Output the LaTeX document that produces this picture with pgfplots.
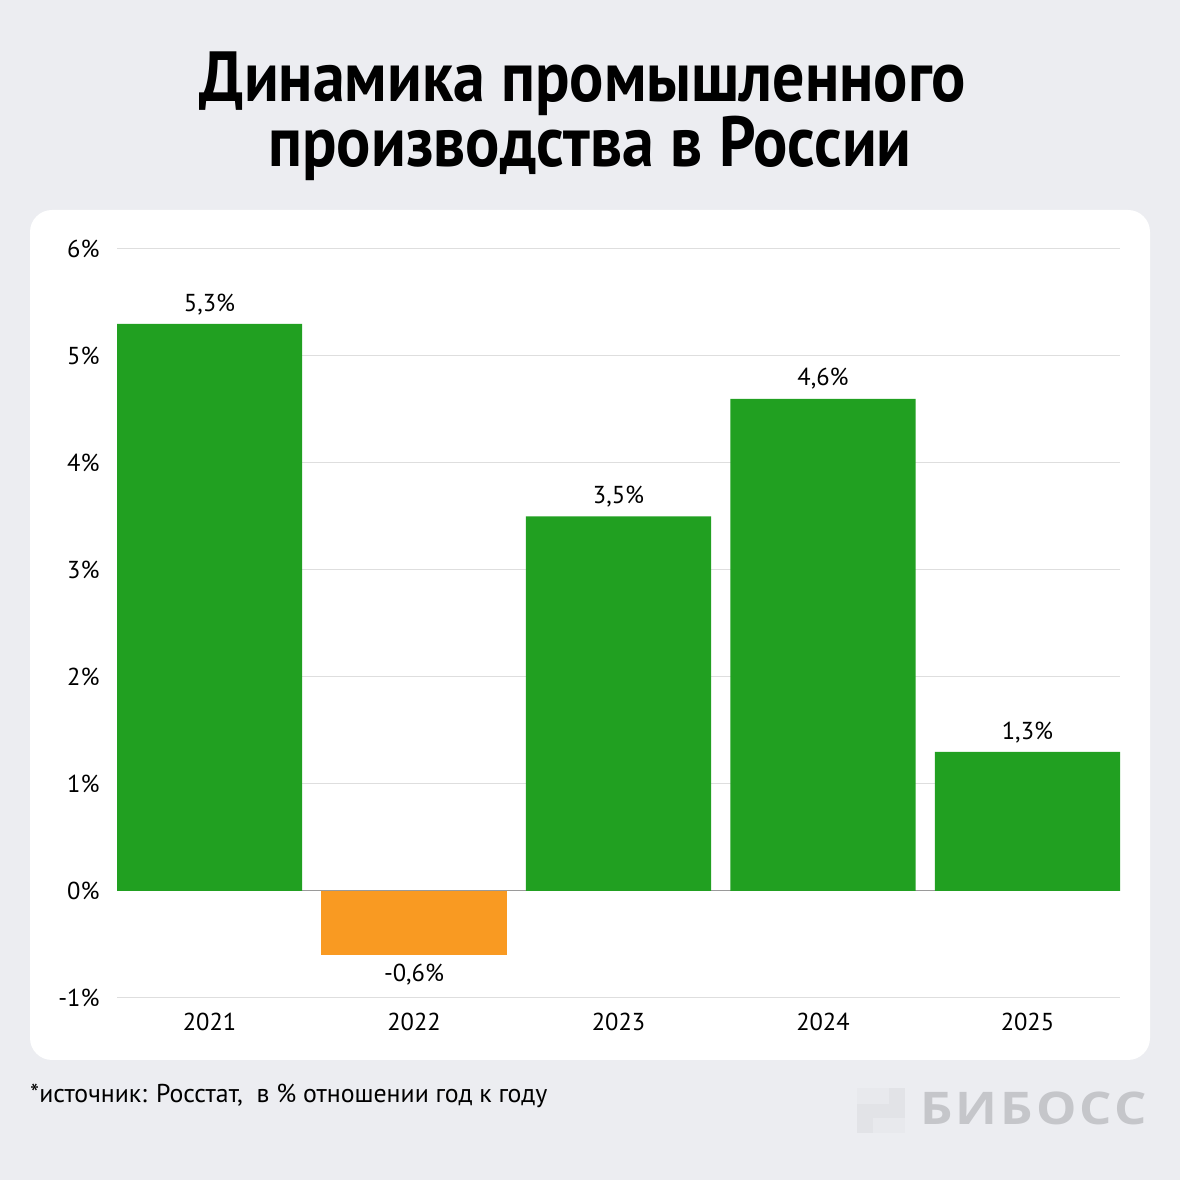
\documentclass[border=0pt]{standalone}
\usepackage{fontspec}
\setmainfont{PT Sans}
\newfontfamily\titlefont{PT Sans}[FakeStretch=0.9]
\newfontfamily\logofont{Open Sans}[LetterSpace=6]
\usepackage{pgfplots}
\pgfplotsset{compat=1.18}

\definecolor{pagebg}{HTML}{ECEDF1}
\definecolor{barGreen}{HTML}{21A021}
\definecolor{barOrange}{HTML}{F99A22}
\definecolor{gridc}{HTML}{DEDEDE}
\definecolor{zeroc}{HTML}{9A9A9A}
\definecolor{logoText}{HTML}{C5C6CA}
\definecolor{logoA}{HTML}{E2E3E7}
\definecolor{logoB}{HTML}{E8E9ED}

\begin{document}
\begin{tikzpicture}[x=1pt,y=1pt]
% page and card
\fill[pagebg] (0,0) rectangle (1180,1180);
\useasboundingbox (0,0) rectangle (1180,1180);
\fill[white, rounded corners=22pt] (30,120) rectangle (1150,970);

% title
\node[anchor=base, font=\titlefont\bfseries\fontsize{71}{71}\selectfont] at (583,1078) {Динамика промышленного};
\node[anchor=base, font=\titlefont\bfseries\fontsize{71}{71}\selectfont] at (590,1013) {производства в России};

\begin{axis}[
  at={(117pt,182pt)}, anchor=south west,
  scale only axis, width=1003pt, height=749pt,
  xmin=-0.4525, xmax=4.4525, ymin=-1, ymax=6,
  ybar, bar width=0.905, bar shift=0pt,
  axis line style={draw=none},
  major tick length=0pt,
  ytick={-1,0,...,6},
  yticklabel={\pgfmathprintnumber{\tick}\%},
  xtick={0,...,4},
  xticklabels={2021,2022,2023,2024,2025},
  tick label style={font=\fontsize{24.5}{24.5}\selectfont},
  yticklabel style={xshift=-14pt},
  xticklabel style={yshift=-12pt},
  /pgf/number format/assume math mode=true,
  ymajorgrids, grid style={gridc, line width=1pt},
  extra y ticks={0}, extra y tick labels={},
  extra y tick style={grid style={zeroc, line width=1pt}},
  nodes near coords={\pgfmathprintnumber[fixed, fixed zerofill, precision=1, use comma, assume math mode=true]{\pgfplotspointmeta}\%},
  nodes near coords align={vertical},
  every node near coord/.append style={font=\fontsize{24.5}{24.5}\selectfont, inner sep=9pt, text=black},
  clip=false,
]
\addplot[fill=barGreen, draw=none] coordinates {(0,5.3) (2,3.5) (3,4.6) (4,1.3)};
\addplot[fill=barOrange, draw=none] coordinates {(1,-0.6)};
\end{axis}

% footnote
\node[anchor=base west, inner sep=0pt, font=\fontsize{25.8}{25.8}\selectfont] at (30,77) {*источник: Росстат,\ \ в \% отношении год к году};

% logo
\fill[logoA] (857,47) rectangle (905,92);
\fill[logoB] (857,76) rectangle (889,92);
\fill[logoB] (873,47) rectangle (905,62);
\node[anchor=base west, inner sep=0pt, text=logoText, xscale=1.13, font=\logofont\bfseries\fontsize{45}{45}\selectfont] at (920,55) {БИБОСС};
\end{tikzpicture}
\end{document}
